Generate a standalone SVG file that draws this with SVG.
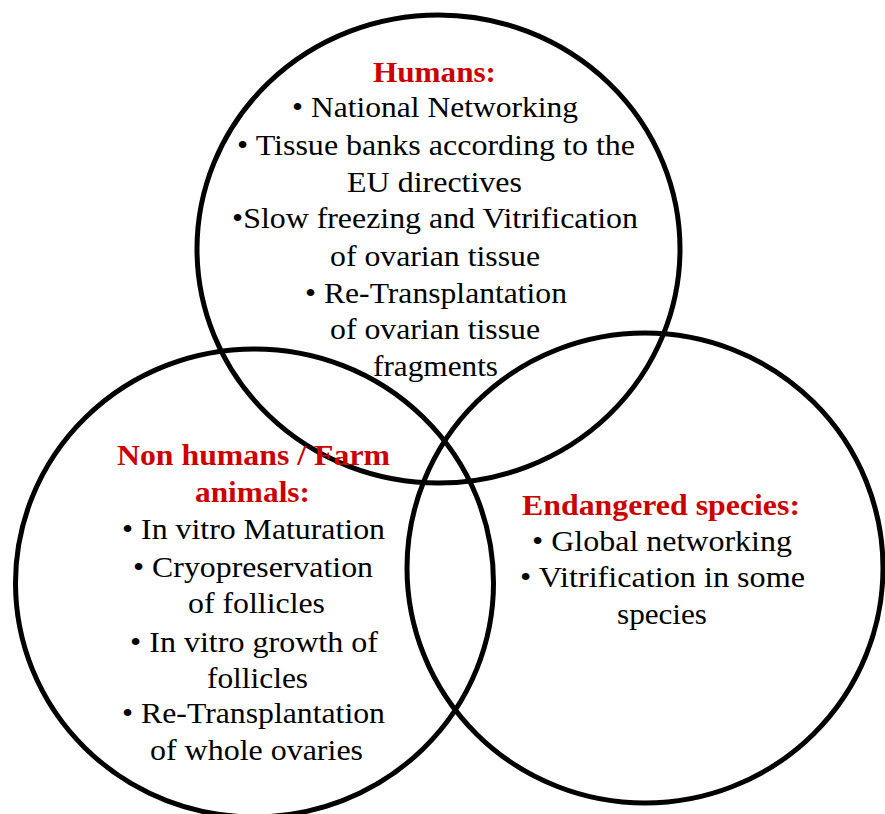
<svg xmlns="http://www.w3.org/2000/svg" width="885" height="814" viewBox="0 0 885 814">
<style>
.c{fill:none;stroke:#000;stroke-width:5}
text{font-family:"Liberation Serif","Times New Roman",serif;font-size:30px;text-anchor:middle;fill:#000}
.h{font-weight:bold;fill:#cc0000}
</style>
<rect width="885" height="814" fill="#fff"/>
<g id="circles">
<ellipse id="c-humans" class="c" cx="438.5" cy="249" rx="241.5" ry="234"/>
<ellipse id="c-nonhumans" class="c" cx="254.5" cy="583" rx="239" ry="234"/>
<ellipse id="c-endangered" class="c" cx="645" cy="568" rx="238" ry="235"/>
</g>
<g id="humans">
<text class="h" x="434.5" y="82" textLength="123" lengthAdjust="spacingAndGlyphs">Humans:</text>
<text x="435" y="117" textLength="286" lengthAdjust="spacingAndGlyphs">• National Networking</text>
<text x="436" y="155" textLength="398" lengthAdjust="spacingAndGlyphs">• Tissue banks according to the</text>
<text x="434.5" y="192" textLength="175" lengthAdjust="spacingAndGlyphs">EU directives</text>
<text x="435" y="228" textLength="406" lengthAdjust="spacingAndGlyphs">•Slow freezing and Vitrification</text>
<text x="435" y="266" textLength="210" lengthAdjust="spacingAndGlyphs">of ovarian tissue</text>
<text x="436" y="303" textLength="262" lengthAdjust="spacingAndGlyphs">• Re-Transplantation</text>
<text x="435" y="339" textLength="210" lengthAdjust="spacingAndGlyphs">of ovarian tissue</text>
<text x="435.5" y="376" textLength="125" lengthAdjust="spacingAndGlyphs">fragments</text>
</g>
<g id="nonhumans">
<text class="h" x="253.5" y="465" textLength="273" lengthAdjust="spacingAndGlyphs">Non humans / Farm</text>
<text class="h" x="252.5" y="502" textLength="115" lengthAdjust="spacingAndGlyphs">animals:</text>
<text x="253.5" y="539" textLength="263" lengthAdjust="spacingAndGlyphs">• In vitro Maturation</text>
<text x="253" y="577" textLength="240" lengthAdjust="spacingAndGlyphs">• Cryopreservation</text>
<text x="256.5" y="613" textLength="137" lengthAdjust="spacingAndGlyphs">of follicles</text>
<text x="254" y="652" textLength="248" lengthAdjust="spacingAndGlyphs">• In vitro growth of</text>
<text x="257.5" y="688" textLength="101" lengthAdjust="spacingAndGlyphs">follicles</text>
<text x="253.5" y="723" textLength="263" lengthAdjust="spacingAndGlyphs">• Re-Transplantation</text>
<text x="256.5" y="760" textLength="213" lengthAdjust="spacingAndGlyphs">of whole ovaries</text>
</g>
<g id="endangered">
<text class="h" x="661" y="515" textLength="278" lengthAdjust="spacingAndGlyphs">Endangered species:</text>
<text x="662" y="551" textLength="260" lengthAdjust="spacingAndGlyphs">• Global networking</text>
<text x="662.5" y="587" textLength="285" lengthAdjust="spacingAndGlyphs">• Vitrification in some</text>
<text x="662" y="624" textLength="90" lengthAdjust="spacingAndGlyphs">species</text>
</g>
</svg>
